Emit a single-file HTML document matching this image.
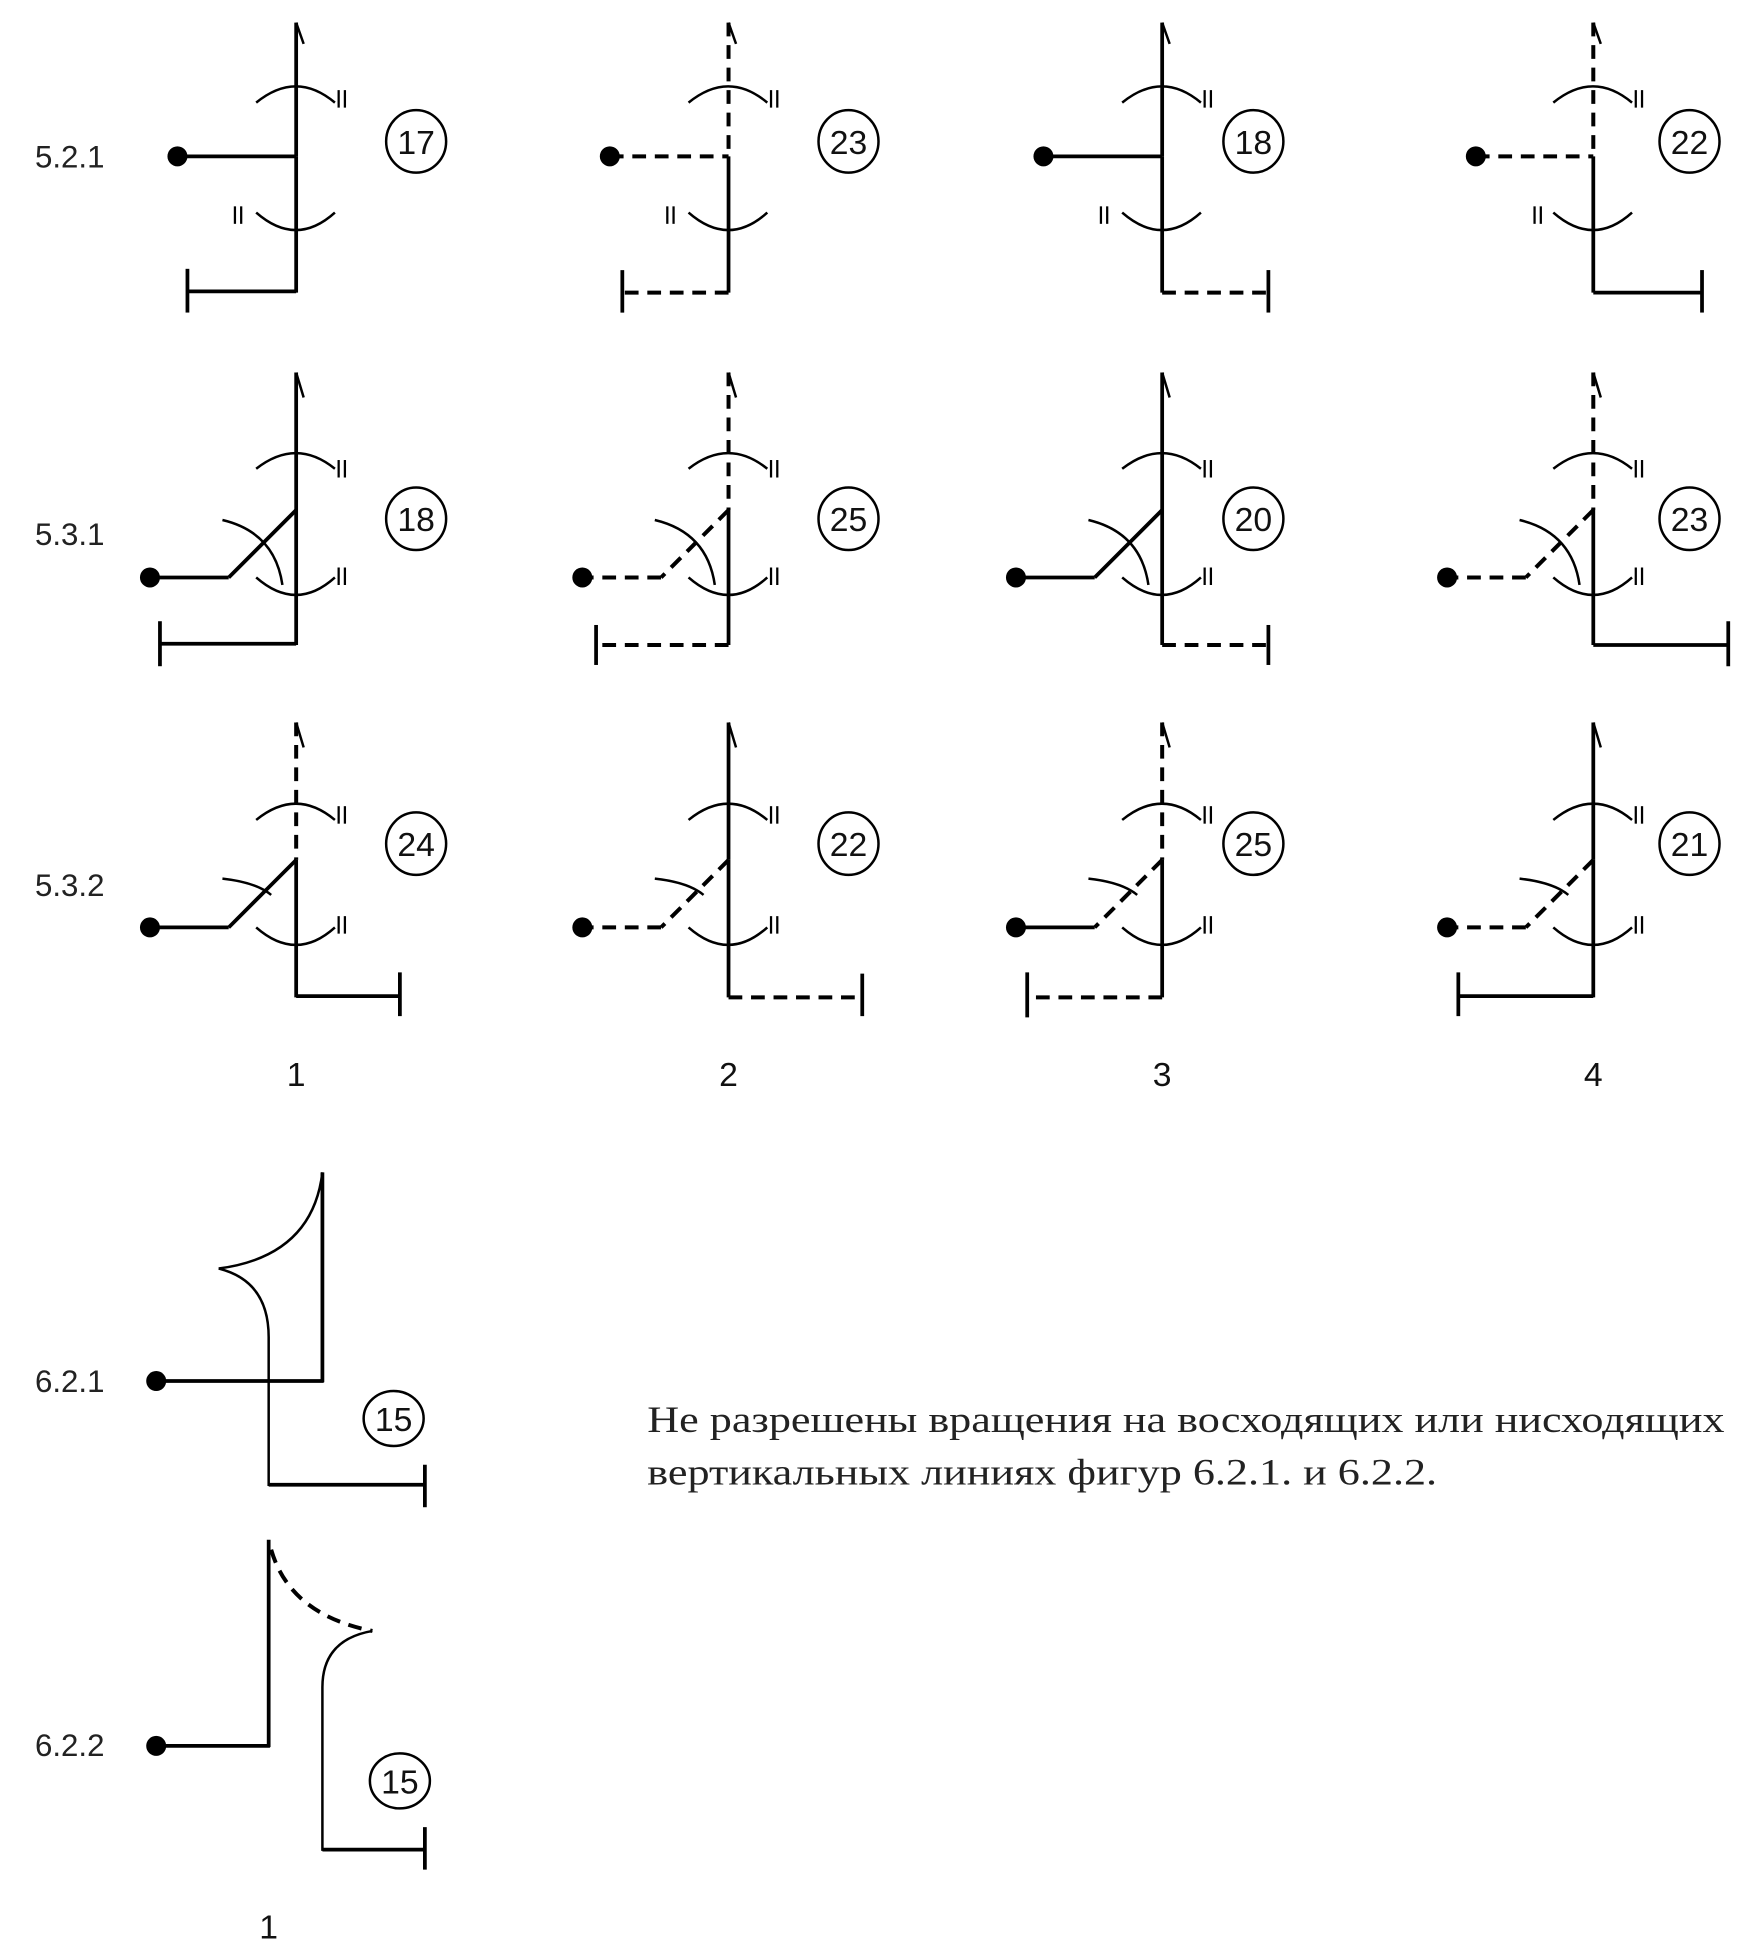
<!DOCTYPE html>
<html><head><meta charset="utf-8"><style>html,body{margin:0;padding:0;background:#fff;}svg{display:block;}</style></head>
<body>
<svg width="1762" height="1956" viewBox="0 0 1410 1565" xmlns="http://www.w3.org/2000/svg">
<defs>
<g id="ii"><line x1="0" y1="0" x2="0" y2="14" stroke="#000" stroke-width="1.8"/><line x1="5" y1="0" x2="5" y2="14" stroke="#000" stroke-width="1.8"/></g>
</defs>
<style>
.s{stroke:#000;stroke-width:3;fill:none}
.d{stroke:#000;stroke-width:3.2;fill:none;stroke-dasharray:11,7}
.a{stroke:#000;stroke-width:2;fill:none}
.t{font-family:"Liberation Sans",sans-serif;font-size:25px;fill:#222}
.n{font-family:"Liberation Sans",sans-serif;font-size:27px;fill:#111;text-anchor:middle}
</style>

<text class="t" x="28" y="134">5.2.1</text>
<text class="t" x="28" y="436">5.3.1</text>
<text class="t" x="28" y="717">5.3.2</text>

<!-- ROW 1 -->
<g>
<line class="s" x1="237" y1="18" x2="237" y2="125"/>
<line class="a" x1="237" y1="18" x2="243" y2="35"/>
<path class="a" d="M205,82 Q237,56 268,82"/><use href="#ii" x="271" y="72"/>
<line class="s" x1="142" y1="125" x2="237" y2="125"/><circle cx="142" cy="125" r="8"/>
<line class="s" x1="237" y1="125" x2="237" y2="234"/>
<path class="a" d="M205,170 Q237,198 268,170"/><use href="#ii" x="188" y="165"/>
<line class="s" x1="237" y1="233" x2="150" y2="233"/><line class="s" x1="150" y1="215" x2="150" y2="250"/>
<ellipse class="a" cx="333" cy="113" rx="24" ry="25"/><text class="n" x="333" y="123">17</text>
</g>
<g transform="translate(346,0)">
<line class="d" x1="237" y1="18" x2="237" y2="125"/>
<line class="a" x1="237" y1="18" x2="243" y2="35"/>
<path class="a" d="M205,82 Q237,56 268,82"/><use href="#ii" x="271" y="72"/>
<line class="d" x1="142" y1="125" x2="237" y2="125"/><circle cx="142" cy="125" r="8"/>
<line class="s" x1="237" y1="125" x2="237" y2="234"/>
<path class="a" d="M205,170 Q237,198 268,170"/><use href="#ii" x="188" y="165"/>
<line class="d" x1="237" y1="234" x2="152" y2="234"/><line class="s" x1="152" y1="216" x2="152" y2="250"/>
<ellipse class="a" cx="333" cy="113" rx="24" ry="25"/><text class="n" x="333" y="123">23</text>
</g>
<g transform="translate(693,0)">
<line class="s" x1="237" y1="18" x2="237" y2="125"/>
<line class="a" x1="237" y1="18" x2="243" y2="35"/>
<path class="a" d="M205,82 Q237,56 268,82"/><use href="#ii" x="271" y="72"/>
<line class="s" x1="142" y1="125" x2="237" y2="125"/><circle cx="142" cy="125" r="8"/>
<line class="s" x1="237" y1="125" x2="237" y2="234"/>
<path class="a" d="M205,170 Q237,198 268,170"/><use href="#ii" x="188" y="165"/>
<line class="d" x1="237" y1="234" x2="322" y2="234"/><line class="s" x1="322" y1="216" x2="322" y2="250"/>
<ellipse class="a" cx="310" cy="113" rx="24" ry="25"/><text class="n" x="310" y="123">18</text>
</g>
<g transform="translate(1038,0)">
<line class="d" x1="237" y1="18" x2="237" y2="125"/>
<line class="a" x1="237" y1="18" x2="243" y2="35"/>
<path class="a" d="M205,82 Q237,56 268,82"/><use href="#ii" x="271" y="72"/>
<line class="d" x1="143" y1="125" x2="237" y2="125"/><circle cx="143" cy="125" r="8"/>
<line class="s" x1="237" y1="125" x2="237" y2="234"/>
<path class="a" d="M205,170 Q237,198 268,170"/><use href="#ii" x="190" y="165"/>
<line class="s" x1="237" y1="234" x2="324" y2="234"/><line class="s" x1="324" y1="216" x2="324" y2="250"/>
<ellipse class="a" cx="314" cy="113" rx="24" ry="25"/><text class="n" x="314" y="123">22</text>
</g>

<!-- ROW 2 -->
<g>
<line class="s" x1="237" y1="298" x2="237" y2="408"/>
<line class="a" x1="237" y1="298" x2="243" y2="318"/>
<path class="a" d="M205,375 Q237,350 268,375"/><use href="#ii" x="271" y="368"/>
<line class="s" x1="237" y1="408" x2="183" y2="462"/><line class="s" x1="183" y1="462" x2="120" y2="462"/><circle cx="120" cy="462" r="8"/>
<path class="a" d="M178,416 Q220,426 226,468"/>
<line class="s" x1="237" y1="408" x2="237" y2="516"/>
<path class="a" d="M205,462 Q237,490 268,462"/><use href="#ii" x="271" y="454"/>
<line class="s" x1="237" y1="515" x2="128" y2="515"/><line class="s" x1="128" y1="497" x2="128" y2="533"/>
<ellipse class="a" cx="333" cy="415" rx="24" ry="25"/><text class="n" x="333" y="425">18</text>
</g>
<g transform="translate(346,0)">
<line class="d" x1="237" y1="298" x2="237" y2="408"/>
<line class="a" x1="237" y1="298" x2="243" y2="318"/>
<path class="a" d="M205,375 Q237,350 268,375"/><use href="#ii" x="271" y="368"/>
<line class="d" x1="237" y1="408" x2="183" y2="462"/><line class="d" x1="183" y1="462" x2="120" y2="462"/><circle cx="120" cy="462" r="8"/>
<path class="a" d="M178,416 Q220,426 226,468"/>
<line class="s" x1="237" y1="408" x2="237" y2="516"/>
<path class="a" d="M205,462 Q237,490 268,462"/><use href="#ii" x="271" y="454"/>
<line class="d" x1="237" y1="516" x2="131" y2="516"/><line class="s" x1="131" y1="500" x2="131" y2="532"/>
<ellipse class="a" cx="333" cy="415" rx="24" ry="25"/><text class="n" x="333" y="425">25</text>
</g>
<g transform="translate(693,0)">
<line class="s" x1="237" y1="298" x2="237" y2="408"/>
<line class="a" x1="237" y1="298" x2="243" y2="318"/>
<path class="a" d="M205,375 Q237,350 268,375"/><use href="#ii" x="271" y="368"/>
<line class="s" x1="237" y1="408" x2="183" y2="462"/><line class="s" x1="183" y1="462" x2="120" y2="462"/><circle cx="120" cy="462" r="8"/>
<path class="a" d="M178,416 Q220,426 226,468"/>
<line class="s" x1="237" y1="408" x2="237" y2="516"/>
<path class="a" d="M205,462 Q237,490 268,462"/><use href="#ii" x="271" y="454"/>
<line class="d" x1="237" y1="516" x2="322" y2="516"/><line class="s" x1="322" y1="500" x2="322" y2="532"/>
<ellipse class="a" cx="310" cy="415" rx="24" ry="25"/><text class="n" x="310" y="425">20</text>
</g>
<g transform="translate(1038,0)">
<line class="d" x1="237" y1="298" x2="237" y2="408"/>
<line class="a" x1="237" y1="298" x2="243" y2="318"/>
<path class="a" d="M205,375 Q237,350 268,375"/><use href="#ii" x="271" y="368"/>
<line class="d" x1="237" y1="408" x2="183" y2="462"/><line class="d" x1="183" y1="462" x2="120" y2="462"/><circle cx="120" cy="462" r="8"/>
<path class="a" d="M178,416 Q220,426 226,468"/>
<line class="s" x1="237" y1="408" x2="237" y2="516"/>
<path class="a" d="M205,462 Q237,490 268,462"/><use href="#ii" x="271" y="454"/>
<line class="s" x1="237" y1="516" x2="345" y2="516"/><line class="s" x1="345" y1="497" x2="345" y2="533"/>
<ellipse class="a" cx="314" cy="415" rx="24" ry="25"/><text class="n" x="314" y="425">23</text>
</g>

<!-- ROW 3 -->
<g>
<line class="d" x1="237" y1="578" x2="237" y2="688"/>
<line class="a" x1="237" y1="578" x2="243" y2="598"/>
<path class="a" d="M205,656 Q237,630 268,656"/><use href="#ii" x="271" y="645"/>
<line class="s" x1="237" y1="688" x2="183" y2="742"/><line class="s" x1="183" y1="742" x2="120" y2="742"/><circle cx="120" cy="742" r="8"/>
<path class="a" d="M178,703 Q205,706 217,716"/>
<line class="s" x1="237" y1="688" x2="237" y2="798"/>
<path class="a" d="M205,742 Q237,770 268,742"/><use href="#ii" x="271" y="733"/>
<line class="s" x1="237" y1="797" x2="320" y2="797"/><line class="s" x1="320" y1="778" x2="320" y2="813"/>
<ellipse class="a" cx="333" cy="675" rx="24" ry="25"/><text class="n" x="333" y="685">24</text>
</g>
<g transform="translate(346,0)">
<line class="s" x1="237" y1="578" x2="237" y2="688"/>
<line class="a" x1="237" y1="578" x2="243" y2="598"/>
<path class="a" d="M205,656 Q237,630 268,656"/><use href="#ii" x="271" y="645"/>
<line class="d" x1="237" y1="688" x2="183" y2="742"/><line class="d" x1="183" y1="742" x2="120" y2="742"/><circle cx="120" cy="742" r="8"/>
<path class="a" d="M178,703 Q205,706 217,716"/>
<line class="s" x1="237" y1="688" x2="237" y2="798"/>
<path class="a" d="M205,742 Q237,770 268,742"/><use href="#ii" x="271" y="733"/>
<line class="d" x1="237" y1="798" x2="344" y2="798"/><line class="s" x1="344" y1="779" x2="344" y2="813"/>
<ellipse class="a" cx="333" cy="675" rx="24" ry="25"/><text class="n" x="333" y="685">22</text>
</g>
<g transform="translate(693,0)">
<line class="d" x1="237" y1="578" x2="237" y2="688"/>
<line class="a" x1="237" y1="578" x2="243" y2="598"/>
<path class="a" d="M205,656 Q237,630 268,656"/><use href="#ii" x="271" y="645"/>
<line class="d" x1="237" y1="688" x2="183" y2="742"/><line class="s" x1="183" y1="742" x2="120" y2="742"/><circle cx="120" cy="742" r="8"/>
<path class="a" d="M178,703 Q205,706 217,716"/>
<line class="s" x1="237" y1="688" x2="237" y2="798"/>
<path class="a" d="M205,742 Q237,770 268,742"/><use href="#ii" x="271" y="733"/>
<line class="d" x1="237" y1="798" x2="129" y2="798"/><line class="s" x1="129" y1="778" x2="129" y2="814"/>
<ellipse class="a" cx="310" cy="675" rx="24" ry="25"/><text class="n" x="310" y="685">25</text>
</g>
<g transform="translate(1038,0)">
<line class="s" x1="237" y1="578" x2="237" y2="688"/>
<line class="a" x1="237" y1="578" x2="243" y2="598"/>
<path class="a" d="M205,656 Q237,630 268,656"/><use href="#ii" x="271" y="645"/>
<line class="d" x1="237" y1="688" x2="183" y2="742"/><line class="d" x1="183" y1="742" x2="120" y2="742"/><circle cx="120" cy="742" r="8"/>
<path class="a" d="M178,703 Q205,706 217,716"/>
<line class="s" x1="237" y1="688" x2="237" y2="798"/>
<path class="a" d="M205,742 Q237,770 268,742"/><use href="#ii" x="271" y="733"/>
<line class="s" x1="237" y1="797" x2="129" y2="797"/><line class="s" x1="129" y1="778" x2="129" y2="813"/>
<ellipse class="a" cx="314" cy="675" rx="24" ry="25"/><text class="n" x="314" y="685">21</text>
</g>

<text class="n" x="237" y="869">1</text>
<text class="n" x="583" y="869">2</text>
<text class="n" x="930" y="869">3</text>
<text class="n" x="1275" y="869">4</text>

<!-- 6.2.1 -->
<text class="t" x="28" y="1114">6.2.1</text>
<circle cx="125" cy="1105" r="8"/>
<line class="s" x1="125" y1="1105" x2="259" y2="1105"/>
<line class="s" x1="258" y1="938" x2="258" y2="1106"/>
<path class="a" d="M258,938 Q250,1005 175,1015"/>
<path class="a" d="M175,1015 Q215,1025 215,1070 L215,1189"/>
<line class="s" x1="215" y1="1188" x2="340" y2="1188"/><line class="s" x1="340" y1="1172" x2="340" y2="1206"/>
<ellipse class="a" cx="315" cy="1135" rx="24" ry="22"/><text class="n" x="315" y="1145">15</text>

<!-- 6.2.2 -->
<text class="t" x="28" y="1405">6.2.2</text>
<circle cx="125" cy="1397" r="8"/>
<line class="s" x1="125" y1="1397" x2="216" y2="1397"/>
<line class="s" x1="215" y1="1232" x2="215" y2="1398"/>
<path class="d" stroke-width="2.2" d="M217,1240 Q232,1292 298,1305"/>
<path class="a" d="M298,1305 Q258,1312 258,1350 L258,1481"/>
<line class="s" x1="258" y1="1480" x2="340" y2="1480"/><line class="s" x1="340" y1="1462" x2="340" y2="1496"/>
<ellipse class="a" cx="320" cy="1425" rx="24" ry="22"/><text class="n" x="320" y="1435">15</text>
<text class="n" x="215" y="1551">1</text>

<text x="518" y="1146" textLength="862" lengthAdjust="spacingAndGlyphs" style="font-family:'Liberation Serif',serif;font-size:30px;fill:#222">Не разрешены вращения на восходящих или нисходящих</text>
<text x="518" y="1188" textLength="632" lengthAdjust="spacingAndGlyphs" style="font-family:'Liberation Serif',serif;font-size:30px;fill:#222">вертикальных линиях фигур 6.2.1. и 6.2.2.</text>
</svg>
</body></html>
